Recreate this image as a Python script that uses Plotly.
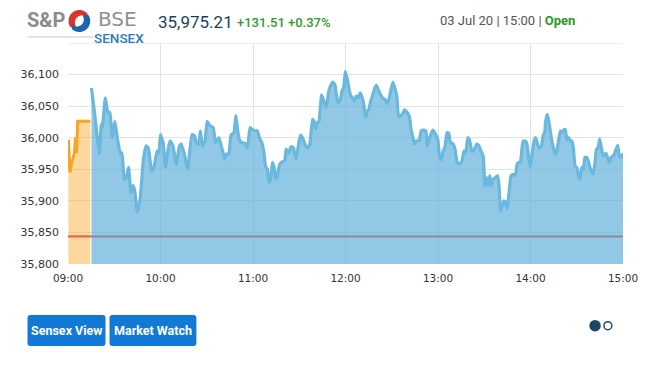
import numpy as np
import plotly.graph_objects as go

DATE = "2020-07-03"
PREV_CLOSE = 35843.70

# Pre-open session (orange)
pre_times = ["09:00:18", "09:01:12", "09:02:30", "09:04:12", "09:04:48", "09:05:30", "09:06:18", "09:14:30"]
pre_values = [35997, 35945, 35961, 35976, 36000, 35976, 36026, 36026]

# Continuous session (blue)
times = [
    "09:15:12", "09:18:00", "09:19:06", "09:20:18", "09:21:36", "09:22:18", "09:24:12", "09:25:54", "09:27:12", "09:28:36",
    "09:30:24", "09:31:48", "09:34:00", "09:35:00", "09:36:30", "09:37:48", "09:39:18", "09:40:48", "09:42:06", "09:43:18",
    "09:45:00", "09:46:48", "09:48:54", "09:50:36", "09:52:06", "09:54:12", "09:55:42", "09:57:48", "09:58:54", "10:00:00",
    "10:01:42", "10:03:12", "10:05:06", "10:06:18", "10:08:06", "10:10:12", "10:12:18", "10:13:24", "10:15:30", "10:17:36",
    "10:20:24", "10:22:06", "10:23:24", "10:24:42", "10:25:54", "10:27:12", "10:28:54", "10:30:12", "10:31:30", "10:32:48",
    "10:34:12", "10:35:42", "10:37:54", "10:39:24", "10:40:36", "10:41:42", "10:42:36", "10:44:18", "10:45:48", "10:47:30",
    "10:48:54", "10:50:00", "10:51:06", "10:52:48", "10:54:54", "10:56:24", "10:58:06", "10:59:36", "11:01:18", "11:02:48",
    "11:04:06", "11:05:48", "11:07:06", "11:08:18", "11:09:24", "11:10:30", "11:11:30", "11:12:36", "11:13:42", "11:14:42",
    "11:15:48", "11:17:18", "11:19:00", "11:20:30", "11:21:30", "11:23:12", "11:24:42", "11:26:12", "11:27:54", "11:29:24",
    "11:30:42", "11:32:12", "11:33:54", "11:35:24", "11:36:54", "11:38:36", "11:39:36", "11:40:42", "11:41:48", "11:42:48",
    "11:44:30", "11:46:00", "11:47:30", "11:49:12", "11:50:18", "11:51:48", "11:53:06", "11:54:06", "11:55:12", "11:56:42",
    "11:57:42", "11:58:48", "11:59:54", "12:01:24", "12:02:24", "12:03:30", "12:04:48", "12:05:36", "12:06:54", "12:08:24",
    "12:09:30", "12:10:54", "12:12:00", "12:13:06", "12:14:06", "12:15:12", "12:16:18", "12:17:30", "12:19:00", "12:20:06",
    "12:21:12", "12:22:42", "12:24:24", "12:25:36", "12:26:54", "12:28:12", "12:29:30", "12:30:48", "12:32:00", "12:33:18",
    "12:34:24", "12:35:42", "12:37:06", "12:38:12", "12:39:42", "12:41:24", "12:42:30", "12:43:30", "12:44:48", "12:46:06",
    "12:47:48", "12:49:06", "12:51:00", "12:52:06", "12:53:06", "12:54:12", "12:55:18", "12:56:42", "12:58:24", "12:59:54",
    "13:01:00", "13:02:18", "13:03:18", "13:04:24", "13:05:54", "13:07:00", "13:08:00", "13:09:30", "13:10:48", "13:12:30",
    "13:14:00", "13:15:30", "13:16:48", "13:18:00", "13:19:18", "13:20:24", "13:21:54", "13:22:54", "13:24:00", "13:25:06",
    "13:26:36", "13:27:48", "13:29:18", "13:30:24", "13:31:30", "13:32:30", "13:33:36", "13:34:36", "13:35:42", "13:37:24",
    "13:38:42", "13:39:36", "13:40:36", "13:41:42", "13:42:42", "13:43:48", "13:44:54", "13:45:54", "13:47:24", "13:48:54",
    "13:50:12", "13:51:18", "13:52:18", "13:53:24", "13:54:30", "13:55:18", "13:56:36", "13:57:42", "13:58:42", "13:59:48",
    "14:00:54", "14:01:54", "14:03:00", "14:03:48", "14:04:54", "14:06:00", "14:07:12", "14:08:18", "14:09:12", "14:09:48",
    "14:10:54", "14:11:54", "14:13:00", "14:14:06", "14:15:06", "14:16:12", "14:17:18", "14:18:18", "14:19:24", "14:20:24",
    "14:21:30", "14:22:36", "14:23:36", "14:24:42", "14:25:48", "14:26:48", "14:27:54", "14:28:54", "14:30:00", "14:31:06",
    "14:32:06", "14:33:12", "14:34:18", "14:35:18", "14:36:24", "14:37:30", "14:38:30", "14:39:36", "14:40:36", "14:41:42",
    "14:42:48", "14:43:48", "14:44:54", "14:46:00", "14:47:00", "14:48:06", "14:49:06", "14:50:12", "14:51:18", "14:52:18",
    "14:53:24", "14:54:24", "14:55:30", "14:56:36", "14:57:36", "14:58:42", "15:00:00",
]
values = [
    36079, 36024, 35997, 35974, 36021, 36016, 36063, 36040, 36040, 36000,
    36026, 36003, 35974, 35976, 35934, 35937, 35953, 35913, 35924, 35916,
    35882, 35903, 35966, 35987, 35984, 35947, 35953, 35979, 35976, 36005,
    35992, 35953, 35984, 35995, 35987, 35958, 35987, 35990, 35974, 35950,
    36005, 36003, 35990, 35990, 36011, 35987, 35995, 36026, 36021, 36018,
    36016, 35992, 36000, 35987, 35976, 35966, 35974, 35974, 36005, 36007,
    36035, 36013, 35997, 35992, 35991, 35984, 36016, 36013, 36011, 36011,
    36000, 35992, 35976, 35953, 35950, 35929, 35934, 35961, 35953, 35935,
    35940, 35958, 35962, 35963, 35982, 35976, 35986, 35984, 35966, 35987,
    36004, 36000, 35988, 35984, 35990, 36029, 36026, 36014, 36024, 36026,
    36068, 36058, 36047, 36074, 36082, 36088, 36084, 36068, 36055, 36061,
    36074, 36079, 36105, 36090, 36076, 36066, 36062, 36058, 36066, 36063,
    36071, 36063, 36050, 36032, 36042, 36045, 36058, 36066, 36079, 36083,
    36076, 36068, 36062, 36061, 36054, 36061, 36076, 36088, 36079, 36066,
    36034, 36035, 36038, 36044, 36041, 36034, 36013, 36003, 35990, 35995,
    35995, 36011, 36012, 36011, 35987, 35997, 36005, 36012, 36006, 35997,
    35971, 35965, 35979, 35984, 36008, 36007, 35992, 35991, 35984, 35961,
    35958, 35963, 35979, 35976, 36000, 35997, 35979, 35979, 35984, 35990,
    35987, 35979, 35971, 35924, 35937, 35924, 35940, 35924, 35934, 35937,
    35940, 35924, 35884, 35892, 35900, 35898, 35888, 35908, 35940, 35942,
    35940, 35958, 35961, 35961, 35984, 35995, 35995, 35990, 35971, 35953,
    35971, 35990, 36000, 35997, 35987, 35984, 35988, 36005, 36008, 36026,
    36037, 36026, 36008, 35992, 35982, 35974, 35982, 35997, 36011, 36008,
    36012, 36013, 35997, 36000, 35995, 35995, 35982, 35955, 35953, 35940,
    35934, 35953, 35950, 35969, 35969, 35963, 35953, 35947, 35942, 35958,
    35982, 35984, 35998, 35984, 35971, 35974, 35975, 35966, 35961, 35969,
    35971, 35974, 35982, 35988, 35971, 35969, 35975,
]

hour_ticks = ["09:00", "10:00", "11:00", "12:00", "13:00", "14:00", "15:00"]
y_ticks = [35800, 35850, 35900, 35950, 36000, 36050, 36100]
Y_TOP = 36150

def ts(t):
    return f"{DATE} {t}"

fig = go.Figure()
fig.add_trace(go.Scatter(
    x=[ts(t) for t in pre_times], y=pre_values, mode="lines",
    line=dict(color="#F6A623", width=3), fill="tozeroy",
    fillcolor="rgba(250,176,62,0.5)", hoverinfo="skip"))
fig.add_trace(go.Scatter(
    x=[ts(t) for t in times], y=values, mode="lines",
    line=dict(color="#6AB8DD", width=3.2, shape="spline", smoothing=0.4), fill="tozeroy",
    fillcolor="rgba(98,177,218,0.7)", hoverinfo="skip"))
fig.add_trace(go.Scatter(
    x=[ts("09:00"), ts("09:15")], y=[PREV_CLOSE, PREV_CLOSE], mode="lines",
    line=dict(color="#E2603C", width=2), hoverinfo="skip"))
fig.add_trace(go.Scatter(
    x=[ts("09:15"), ts("15:00")], y=[PREV_CLOSE, PREV_CLOSE], mode="lines",
    line=dict(color="#8F8797", width=2), hoverinfo="skip"))

# Layout geometry. The page body has an 8px margin, so page coords are offset.
OFF = 8
W, H = 650 - OFF, 368 - 2 * OFF
PLOT_L, PLOT_R, PLOT_T, PLOT_B = 64, 626, 43, 264  # in page pixels
L, T = PLOT_L - OFF, PLOT_T - OFF
R, B = W - (PLOT_R - OFF), H - (PLOT_B - OFF)
PW, PH = PLOT_R - PLOT_L, PLOT_B - PLOT_T

def px(X):
    return (X - PLOT_L) / PW

def py(Y):
    return (PLOT_B - Y) / PH

shapes = []
shapes.append(dict(type="line", xref="paper", yref="y", x0=0, x1=1, y0=Y_TOP, y1=Y_TOP,
                   line=dict(color="#E3E3E3", width=1), layer="below"))

def rrect(x0, y0, x1, y1, r, color):
    rx, ry = r / PW, r / PH
    X0, X1, Y0, Y1 = px(x0), px(x1), py(y1), py(y0)
    path = (f"M{X0+rx},{Y0} L{X1-rx},{Y0} Q{X1},{Y0} {X1},{Y0+ry} L{X1},{Y1-ry} "
            f"Q{X1},{Y1} {X1-rx},{Y1} L{X0+rx},{Y1} Q{X0},{Y1} {X0},{Y1-ry} "
            f"L{X0},{Y0+ry} Q{X0},{Y0} {X0+rx},{Y0} Z")
    return dict(type="path", xref="paper", yref="paper", path=path,
                fillcolor=color, line=dict(width=0))

shapes.append(rrect(23, 315, 102, 346, 3, "#1279D6"))
shapes.append(rrect(106, 315, 194, 346, 3, "#1279D6"))

def circ(cx, cy, r, fill, line_color, lw):
    return dict(type="circle", xref="paper", yref="paper",
                x0=px(cx - r), x1=px(cx + r), y0=py(cy + r), y1=py(cy - r),
                fillcolor=fill, line=dict(color=line_color, width=lw))

shapes.append(circ(597.7, 325.7, 5.8, "#1E4766", "#1E4766", 0))
shapes.append(circ(610.7, 325.7, 4.0, "white", "#1E4766", 1.5))

# logo swirl
cx, cy, rr = 75.5, 21.0, 11.0
def arc_path(a0, a1, r_out, r_in, dx, dy, n=30):
    a = np.linspace(np.radians(a0), np.radians(a1), n)
    xs_o = cx + r_out * np.cos(a); ys_o = cy - r_out * np.sin(a)
    xs_i = cx + dx + r_in * np.cos(a[::-1]); ys_i = cy + dy - r_in * np.sin(a[::-1])
    pts = list(zip(xs_o, ys_o)) + list(zip(xs_i, ys_i))
    return "M" + " L".join(f"{px(x)},{py(y)}" for x, y in pts) + " Z"
shapes.append(dict(type="path", xref="paper", yref="paper", path=arc_path(40, 215, rr, 7.0, 2.5, 1.5),
                   fillcolor="#D8352F", line=dict(width=0)))
shapes.append(dict(type="path", xref="paper", yref="paper", path=arc_path(225, 395, rr, 7.0, -2.5, -1.5),
                   fillcolor="#1E63AE", line=dict(width=0)))
shapes.append(dict(type="line", xref="paper", yref="paper", x0=px(23), x1=px(90), y0=py(37), y1=py(37),
                   line=dict(color="#C8C8C8", width=1)))

ann = []
def text(X, Y, s, size, color, anchor="left", weight="normal", family="Roboto"):
    ann.append(dict(xref="paper", yref="paper", x=px(X), y=py(Y), text=s, showarrow=False,
                    xanchor=anchor, yanchor="middle", borderpad=0,
                    font=dict(size=size, color=color, family=family, weight=weight)))

text(21, 20.5, "S&P", 20, "#8C8C8C", weight="bold")
text(114.5, 19.5, "BSE", 20, "#909090", anchor="center", weight=400, family="DejaVu Sans")
text(115.5, 38, "SENSEX", 13.5, "#2B7BBF", anchor="center", weight=500)
text(154, 22, "35,975.21", 17, "#1D3F5E")
text(234, 22.5, "+131.51 +0.37%", 13, "#2F9B2F", weight=500)
text(440, 20.5, "03 Jul 20 | 15:00 | <b><span style='color:#2A9A2A'>Open</span></b>", 13, "#555555")
text(62.5, 330.5, "Sensex View", 12.5, "white", anchor="center", weight="bold")
text(150, 330.5, "Market Watch", 12.5, "white", anchor="center", weight="bold")

fig.update_layout(
    width=W, height=H, margin=dict(l=L, r=R, t=T, b=B, pad=0),
    paper_bgcolor="white", plot_bgcolor="white", showlegend=False,
    shapes=shapes, annotations=ann, hovermode=False,
    font=dict(family="DejaVu Sans", size=10.5, color="#333333"),
)
fig.update_xaxes(
    type="date", range=[ts("09:00"), ts("15:00")],
    tickvals=[ts(t) for t in hour_ticks], ticktext=hour_ticks,
    showgrid=True, gridcolor="#E3E3E3", gridwidth=1, zeroline=False, showline=False,
    ticks="", ticklabelstandoff=6, tickfont=dict(size=10.5, color="#333333"),
)
fig.update_yaxes(
    range=[y_ticks[0], Y_TOP], tickvals=y_ticks, ticktext=[f"{v:,}" for v in y_ticks],
    showgrid=True, gridcolor="#E3E3E3", gridwidth=1, zeroline=False, showline=False,
    ticks="", ticklabelstandoff=8, tickfont=dict(size=11, color="#333333"),
)

fig.write_html("out.html")
